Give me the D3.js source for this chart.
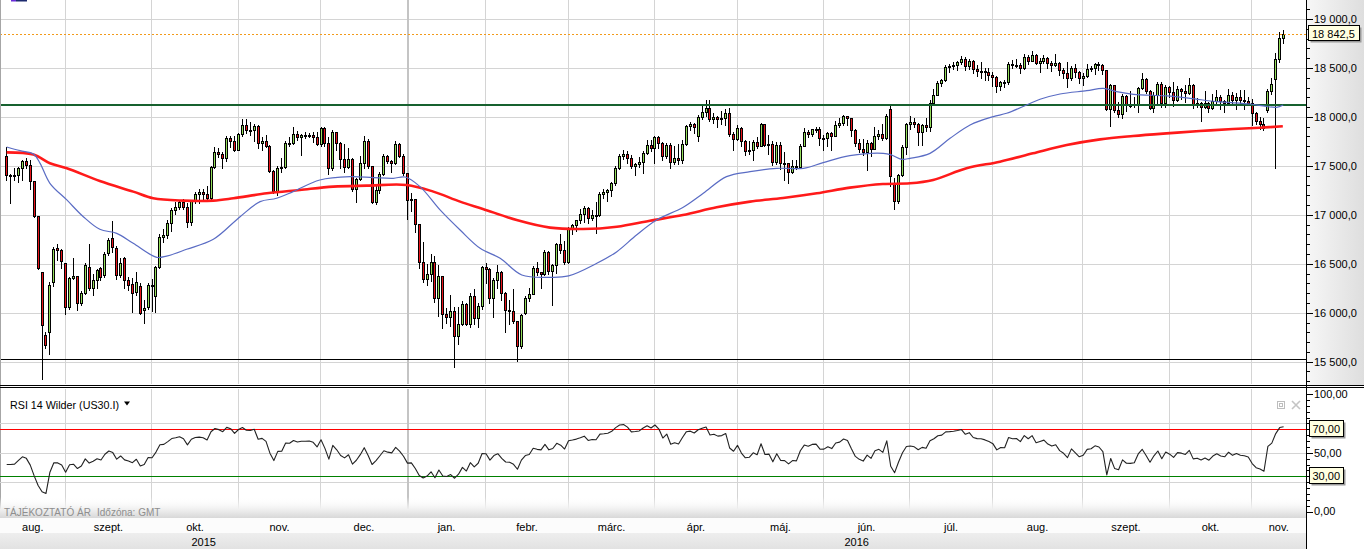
<!DOCTYPE html>
<html lang="hu">
<head>
<meta charset="utf-8">
<title>US30.I</title>
<script src="https://cdn.jsdelivr.net/npm/d3@7/dist/d3.min.js"></script>
<style>
  html, body { margin: 0; padding: 0; background: #ffffff; overflow: hidden; }
  svg { display: block; font-family: "Liberation Sans", Arial, sans-serif; }
</style>
</head>
<body>
<svg id="chart" width="1364" height="549"></svg>
<script>
// ---------------- DATA ----------------
const dates = [
  "2015-08-11","2015-08-12","2015-08-13","2015-08-14","2015-08-17","2015-08-18","2015-08-19","2015-08-20","2015-08-21","2015-08-24","2015-08-25","2015-08-26","2015-08-27","2015-08-28","2015-08-31",
  "2015-09-01","2015-09-02","2015-09-03","2015-09-04","2015-09-07","2015-09-08","2015-09-09","2015-09-10","2015-09-11","2015-09-14","2015-09-15","2015-09-16","2015-09-17","2015-09-18","2015-09-21","2015-09-22","2015-09-23","2015-09-24","2015-09-25","2015-09-28","2015-09-29","2015-09-30",
  "2015-10-01","2015-10-02","2015-10-05","2015-10-06","2015-10-07","2015-10-08","2015-10-09","2015-10-12","2015-10-13","2015-10-14","2015-10-15","2015-10-16","2015-10-19","2015-10-20","2015-10-21","2015-10-22","2015-10-23","2015-10-26","2015-10-27","2015-10-28","2015-10-29","2015-10-30",
  "2015-11-02","2015-11-03","2015-11-04","2015-11-05","2015-11-06","2015-11-09","2015-11-10","2015-11-11","2015-11-12","2015-11-13","2015-11-16","2015-11-17","2015-11-18","2015-11-19","2015-11-20","2015-11-23","2015-11-24","2015-11-25","2015-11-26","2015-11-27","2015-11-30",
  "2015-12-01","2015-12-02","2015-12-03","2015-12-04","2015-12-07","2015-12-08","2015-12-09","2015-12-10","2015-12-11","2015-12-14","2015-12-15","2015-12-16","2015-12-17","2015-12-18","2015-12-21","2015-12-22","2015-12-23","2015-12-24","2015-12-28","2015-12-29","2015-12-30","2015-12-31",
  "2016-01-04","2016-01-05","2016-01-06","2016-01-07","2016-01-08","2016-01-11","2016-01-12","2016-01-13","2016-01-14","2016-01-15","2016-01-18","2016-01-19","2016-01-20","2016-01-21","2016-01-22","2016-01-25","2016-01-26","2016-01-27","2016-01-28","2016-01-29",
  "2016-02-01","2016-02-02","2016-02-03","2016-02-04","2016-02-05","2016-02-08","2016-02-09","2016-02-10","2016-02-11","2016-02-12","2016-02-15","2016-02-16","2016-02-17","2016-02-18","2016-02-19","2016-02-22","2016-02-23","2016-02-24","2016-02-25","2016-02-26","2016-02-29",
  "2016-03-01","2016-03-02","2016-03-03","2016-03-04","2016-03-07","2016-03-08","2016-03-09","2016-03-10","2016-03-11","2016-03-14","2016-03-15","2016-03-16","2016-03-17","2016-03-18","2016-03-21","2016-03-22","2016-03-23","2016-03-24","2016-03-28","2016-03-29","2016-03-30","2016-03-31",
  "2016-04-01","2016-04-04","2016-04-05","2016-04-06","2016-04-07","2016-04-08","2016-04-11","2016-04-12","2016-04-13","2016-04-14","2016-04-15","2016-04-18","2016-04-19","2016-04-20","2016-04-21","2016-04-22","2016-04-25","2016-04-26","2016-04-27","2016-04-28","2016-04-29",
  "2016-05-02","2016-05-03","2016-05-04","2016-05-05","2016-05-06","2016-05-09","2016-05-10","2016-05-11","2016-05-12","2016-05-13","2016-05-16","2016-05-17","2016-05-18","2016-05-19","2016-05-20","2016-05-23","2016-05-24","2016-05-25","2016-05-26","2016-05-27","2016-05-30","2016-05-31",
  "2016-06-01","2016-06-02","2016-06-03","2016-06-06","2016-06-07","2016-06-08","2016-06-09","2016-06-10","2016-06-13","2016-06-14","2016-06-15","2016-06-16","2016-06-17","2016-06-20","2016-06-21","2016-06-22","2016-06-23","2016-06-24","2016-06-27","2016-06-28","2016-06-29","2016-06-30",
  "2016-07-01","2016-07-04","2016-07-05","2016-07-06","2016-07-07","2016-07-08","2016-07-11","2016-07-12","2016-07-13","2016-07-14","2016-07-15","2016-07-18","2016-07-19","2016-07-20","2016-07-21","2016-07-22","2016-07-25","2016-07-26","2016-07-27","2016-07-28","2016-07-29",
  "2016-08-01","2016-08-02","2016-08-03","2016-08-04","2016-08-05","2016-08-08","2016-08-09","2016-08-10","2016-08-11","2016-08-12","2016-08-15","2016-08-16","2016-08-17","2016-08-18","2016-08-19","2016-08-22","2016-08-23","2016-08-24","2016-08-25","2016-08-26","2016-08-29","2016-08-30","2016-08-31",
  "2016-09-01","2016-09-02","2016-09-05","2016-09-06","2016-09-07","2016-09-08","2016-09-09","2016-09-12","2016-09-13","2016-09-14","2016-09-15","2016-09-16","2016-09-19","2016-09-20","2016-09-21","2016-09-22","2016-09-23","2016-09-26","2016-09-27","2016-09-28","2016-09-29","2016-09-30",
  "2016-10-03","2016-10-04","2016-10-05","2016-10-06","2016-10-07","2016-10-10","2016-10-11","2016-10-12","2016-10-13","2016-10-14","2016-10-17","2016-10-18","2016-10-19","2016-10-20","2016-10-21","2016-10-24","2016-10-25","2016-10-26","2016-10-27","2016-10-28","2016-10-31",
  "2016-11-01","2016-11-02","2016-11-03","2016-11-04","2016-11-07","2016-11-08","2016-11-09","2016-11-10","2016-11-11"
];

const open = [
  17604,17402,17403,17409,17477,17546,17512,17349,16990,16420,15773,15800,16318,16660,16643,
  16505,16062,16351,16374,16098,16198,16471,16250,16330,16460,16386,16607,16760,16660,16384,16560,16330,16290,16215,16270,16030,16060,
  16284,16171,16472,16776,16790,16912,17050,17084,17131,17081,16924,17141,17215,17230,17217,17168,17489,17646,17623,17581,17780,17755,
  17663,17828,17918,17867,17863,17910,17730,17758,17702,17448,17245,17483,17489,17737,17732,17824,17792,17812,17813,17820,17798,
  17720,17888,17730,17478,17848,17731,17568,17493,17575,17265,17368,17525,17750,17496,17128,17252,17418,17603,17552,17528,17720,17603,
  17425,17149,17158,16907,16514,16346,16399,16516,16151,16379,15988,15960,16016,15766,15882,16093,15885,16167,15944,16069,
  16466,16449,16153,16336,16416,16204,16027,16014,15914,15660,16000,16150,16196,16453,16413,16400,16620,16431,16485,16698,16639,
  16516,16865,16899,16943,17006,17073,16964,17000,16995,17213,17229,17251,17325,17481,17602,17623,17582,17502,17516,17535,17633,17716,
  17685,17792,17737,17603,17716,17541,17577,17556,17721,17908,17926,17800,18004,18053,18096,17982,18003,17977,17990,18041,17830,
  17773,17891,17750,17651,17660,17740,17705,17928,17711,17720,17535,17710,17529,17526,17435,17501,17492,17706,17851,17828,17873,17880,
  17787,17789,17838,17807,17920,17938,18005,17985,17865,17732,17675,17640,17733,17675,17804,17829,17780,18081,17330,17140,17409,17695,
  17930,17949,17925,17841,17918,17896,18147,18226,18347,18372,18506,18517,18534,18559,18595,18518,18571,18493,18474,18473,18456,
  18432,18404,18314,18355,18352,18544,18529,18533,18496,18613,18576,18636,18552,18574,18597,18552,18529,18547,18481,18449,18395,18503,18454,
  18401,18419,18492,18500,18538,18526,18479,18085,18325,18067,18034,18212,18124,18120,18130,18293,18392,18261,18094,18228,18339,18143,
  18308,18253,18168,18281,18269,18240,18329,18129,18144,18098,18138,18087,18162,18203,18162,18146,18223,18169,18199,18170,18161,
  18142,18037,17959,17931,18071,18260,18384,18589,18808
];

const high = [
  17696,17420,17480,17490,17560,17580,17560,17350,16990,16420,15807,16318,16668,16700,16650,
  16505,16370,16556,16374,16220,16505,16702,16400,16450,16470,16620,16760,16940,16680,16560,16570,16370,16352,16420,16300,16130,16300,
  16340,16480,16800,16860,16950,17070,17130,17150,17160,17120,17150,17230,17260,17260,17290,17500,17690,17680,17640,17800,17800,17800,
  17840,17980,17980,17950,17930,17920,17790,17820,17710,17460,17500,17580,17750,17790,17900,17860,17830,17850,17840,17850,17850,
  17900,17900,17790,17870,17850,17740,17720,17680,17580,17380,17600,17800,17770,17500,17300,17440,17620,17610,17560,17750,17730,17620,
  17430,17220,17160,16910,16720,16500,16600,16580,16490,16380,16050,16180,16060,16060,16120,16100,16200,16240,16100,16480,
  16510,16460,16350,16490,16430,16210,16130,16240,15920,15990,16170,16250,16480,16520,16420,16640,16630,16500,16710,16800,16730,
  16880,16910,16950,17060,17090,17080,17050,17130,17230,17260,17260,17340,17500,17620,17660,17650,17610,17530,17590,17650,17760,17760,
  17800,17810,17740,17730,17730,17700,17720,17760,17920,17950,17940,18020,18110,18173,18170,18040,18010,18060,18080,18090,17850,
  17920,17900,17760,17750,17760,17790,17940,17930,17820,17750,17740,17740,17640,17530,17560,17560,17720,17890,17870,17880,17900,17900,
  17820,17850,17850,17960,17990,18020,18010,17990,17880,17770,17770,17760,17740,17900,17870,17930,18030,18110,17380,17420,17710,17940,
  18010,17990,17940,17930,17990,18170,18280,18370,18390,18530,18540,18560,18570,18620,18610,18590,18580,18530,18560,18500,18500,
  18460,18420,18370,18380,18560,18580,18590,18550,18640,18630,18670,18640,18600,18630,18610,18570,18640,18560,18500,18560,18520,18540,18470,
  18450,18540,18520,18550,18560,18540,18480,18340,18330,18150,18230,18220,18260,18200,18310,18450,18400,18270,18250,18360,18360,18330,
  18320,18360,18320,18300,18330,18400,18340,18190,18150,18260,18150,18230,18270,18220,18170,18290,18250,18240,18270,18270,18200,
  18180,18050,18000,17990,18280,18400,18649,18870,18890
];

const low = [
  17356,17116,17360,17340,17360,17480,17260,16980,16450,15324,15640,15579,16270,16540,16460,
  15990,16040,16340,16030,16080,16190,16230,16180,16250,16330,16360,16590,16620,16340,16360,16250,16230,16011,16180,15990,15900,16040,
  16013,16011,16460,16720,16760,16830,17010,17060,17060,16880,16900,17120,17120,17150,17150,17160,17480,17590,17480,17550,17690,17650,
  17660,17800,17840,17820,17750,17680,17660,17690,17440,17220,17200,17440,17480,17700,17720,17760,17610,17780,17790,17740,17710,
  17700,17700,17420,17460,17660,17480,17440,17480,17240,17130,17360,17480,17480,17120,17110,17220,17410,17530,17440,17520,17590,17410,
  16960,17040,16820,16460,16310,16280,16320,16110,15970,15840,15900,15860,15450,15680,15870,15870,15850,15880,15850,16040,
  16300,16100,15960,16250,16130,15800,15880,15900,15508,15640,15990,16120,16190,16390,16250,16390,16400,16080,16410,16610,16500,
  16510,16800,16830,16920,16930,16920,16950,16810,16990,17170,17140,17190,17300,17470,17570,17530,17480,17410,17490,17430,17620,17650,
  17530,17680,17560,17580,17480,17520,17520,17530,17710,17870,17840,17750,17980,18010,17960,17940,17900,17930,17920,17800,17660,
  17760,17700,17610,17620,17560,17680,17700,17700,17620,17510,17520,17470,17360,17329,17430,17470,17480,17700,17790,17800,17850,17710,
  17660,17700,17660,17800,17900,17920,17920,17810,17700,17640,17610,17458,17600,17670,17770,17760,17770,17290,17060,17120,17400,17620,
  17880,17900,17710,17710,17860,17860,18140,18220,18320,18370,18460,18490,18480,18540,18480,18490,18450,18420,18400,18380,18380,
  18320,18250,18270,18310,18340,18500,18510,18450,18490,18540,18570,18540,18460,18550,18500,18470,18520,18430,18400,18310,18380,18410,18350,
  18330,18410,18470,18440,18480,18440,18070,17906,18050,18000,17990,18060,18100,18100,18050,18280,18240,18080,18050,18130,18100,18100,
  18200,18110,18160,18180,18150,18230,18090,18100,17960,18090,18050,18080,18140,18080,18050,18140,18130,18080,18140,18080,18120,
  17920,17930,17880,17870,18050,18230,17475,18560,18750
];

const close = [
  17402,17403,17409,17477,17546,17512,17349,16990,16460,15871,15666,16285,16655,16643,16528,
  16058,16351,16374,16102,16198,16492,16253,16330,16433,16370,16599,16739,16674,16384,16510,16330,16280,16201,16314,16001,16049,16284,
  16272,16472,16776,16790,16912,17050,17084,17131,17081,16924,17141,17215,17230,17217,17168,17489,17646,17623,17581,17780,17755,17663,
  17828,17918,17867,17863,17910,17730,17758,17702,17448,17245,17483,17489,17737,17732,17824,17792,17812,17813,17820,17798,17720,
  17888,17730,17478,17848,17731,17568,17493,17575,17265,17368,17525,17750,17496,17128,17252,17418,17603,17552,17528,17720,17603,17425,
  17149,17158,16907,16514,16346,16399,16516,16151,16379,15988,15960,16016,15766,15882,16093,15885,16167,15944,16069,16466,
  16449,16153,16336,16416,16204,16027,16014,15914,15660,15973,16150,16196,16453,16413,16392,16620,16431,16485,16698,16639,16516,
  16865,16899,16943,17006,17073,16964,17000,16995,17213,17229,17251,17325,17481,17602,17623,17582,17502,17516,17535,17633,17716,17685,
  17792,17737,17603,17716,17541,17577,17556,17721,17908,17926,17897,18004,18053,18096,17982,18003,17977,17990,18041,17830,17773,
  17891,17750,17651,17660,17740,17705,17928,17711,17720,17535,17710,17529,17526,17435,17501,17492,17706,17851,17828,17873,17880,17787,
  17789,17838,17807,17920,17938,18005,17985,17865,17732,17675,17640,17733,17675,17804,17829,17780,18011,17400,17140,17409,17695,17930,
  17949,17925,17841,17918,17896,18147,18226,18347,18372,18506,18517,18534,18559,18595,18518,18571,18493,18474,18473,18456,18432,
  18404,18314,18355,18352,18544,18529,18533,18496,18613,18576,18636,18552,18574,18597,18552,18529,18547,18481,18449,18395,18503,18454,18401,
  18419,18492,18500,18538,18526,18479,18085,18325,18067,18034,18212,18124,18120,18130,18293,18392,18261,18094,18228,18339,18143,18308,
  18253,18168,18281,18269,18240,18329,18129,18144,18098,18138,18087,18162,18203,18162,18146,18223,18169,18199,18170,18161,18142,
  18037,17959,17931,17888,18260,18332,18589,18808,18842.5
];

// closes before the visible window (Jun-Aug 2015), used only to warm up the RSI
const rsiWarmupCloses = [
  18040,18011,18076,17905,17849,17766,17765,18001,18039,17899,17792,17905,17935,18115,17985,18120,18144,17967,17891,17947,17597,17620,
  17758,17731,17700,17684,17777,17515,17548,17760,17977,18054,18051,18121,18087,18100,17920,17851,17732,17569,17441,17631,17751,17746,17690,
  17599,17551,17541,17420,17373,17615
];

// moving averages: [candle index, value]
const maSlow = [
  [0,17638],[6.8,17615],[11,17526],[15.3,17475],[23.7,17346],[32.2,17237],[37.3,17169],[45,17145],[52.6,17145],[57.7,17169],
  [66.2,17220],[74.6,17254],[83.1,17288],[91.6,17298],[101.8,17305],[108.6,17237],[115.4,17135],[121.2,17060],[129.8,16947],
  [138.3,16869],[146.7,16855],[155.3,16879],[163.7,16940],[172.1,16998],[180.7,17077],[189.2,17135],[197.6,17172],[206.2,17220],
  [214.6,17278],[223,17315],[229.9,17322],[235.8,17356],[244.3,17475],[252.8,17543],[261.2,17628],[269.8,17713],[278.3,17771],
  [286.7,17805],[295.2,17832],[303.7,17856],[312.1,17877],[319,17890],[324.8,17904]
];
const maFast = [
  [0,17693],[3.4,17655],[6.8,17621],[8.5,17526],[11,17322],[15.3,17152],[19.5,16981],[23.7,16852],[28,16811],[32.2,16709],
  [38.2,16566],[40.7,16579],[45.8,16648],[52.6,16750],[59.4,16981],[64.5,17135],[68.7,17169],[72.9,17237],[79.7,17356],
  [87.4,17390],[93.3,17380],[98.4,17373],[101.4,17386],[105.2,17288],[110.3,17050],[115.4,16845],[120.5,16658],[125.6,16556],
  [131.1,16386],[138.3,16362],[143,16376],[150.2,16505],[155.3,16624],[160.3,16794],[165.4,16947],[172.2,17077],[177.3,17220],
  [183.2,17390],[189.2,17441],[196,17475],[202.8,17475],[207.8,17533],[214.6,17604],[223.1,17628],[225.2,17611],[227.8,17567],
  [229.9,17577],[235,17628],[240.1,17781],[245.2,17918],[251.1,18003],[254.5,18037],[259.6,18122],[263,18180],[268.1,18234],
  [274.9,18268],[279.1,18292],[282.5,18258],[286.8,18231],[295.2,18214],[301.2,18190],[308,18156],[316.5,18132],[319.8,18112],
  [323.2,18098],[324.9,18122]
];

const levelGreen = 18122;
const levelBlack = 15525;
const lastPrice = 18842.5;

const priceTicks = [15500,16000,16500,17000,17500,18000,18500,19000];
const rsiTicks = [0,50,100];
const rsiGrid = [25,50,75];
const rsiBands = [70,30];
const monthNames = ["jan.","febr.","márc.","ápr.","máj.","jún.","júl.","aug.","szept.","okt.","nov.","dec."];
const rsiTitle = "RSI 14 Wilder (US30.I)";
const footNote1 = "TÁJÉKOZTATÓ ÁR";
const footNote2 = "Időzóna: GMT";

// ---------------- LAYOUT ----------------
const W = 1364, H = 549;
const plotR = 1306;
const mainB = 384;
const rsiT = 389, rsiB = 518;
const monthRowT = 518, monthRowB = 533, yearRowB = 549;

const svg = d3.select("#chart");
const defs = svg.append("defs");
function vGrad(id, stops, horiz) {
  const g = defs.append("linearGradient").attr("id", id)
    .attr("x1", 0).attr("y1", 0).attr("x2", horiz ? 1 : 0).attr("y2", horiz ? 0 : 1);
  stops.forEach(s => g.append("stop").attr("offset", s[0]).attr("stop-color", s[1]).attr("stop-opacity", s[2] == null ? 1 : s[2]));
}
vGrad("axisGrad", [["0%", "#f7f7f7"], ["100%", "#dedede"]], true);
vGrad("bandGrad", [["0%", "#ffffff", 0], ["60%", "#efefef", 1], ["100%", "#d8d8d8", 1]], false);
vGrad("yearGrad", [["0%", "#eeeeee"], ["100%", "#e2e2e2"]], false);

const x = d3.scaleLinear().domain([-1.705, 330.7]).range([0, plotR]);
const y = d3.scaleLinear().domain([15500, 19000]).range([361.7, 19]);
const yR = d3.scaleLinear().domain([0, 100]).range([511.5, 394]);

const huLocale = d3.formatLocale({ decimal: ",", thousands: " ", grouping: [3], currency: ["", ""] });
const fmtPrice = huLocale.format(",.1f");
const fmtRsi = huLocale.format(".2f");

// month boundaries from dates
const monthStarts = [];
dates.forEach((d, i) => { if (i === 0 || d.slice(0, 7) !== dates[i - 1].slice(0, 7)) monthStarts.push(i); });
const bLine = i => Math.floor(x(i) - 0.4) + 0.5;
const monthLines = monthStarts.slice(1).map(bLine);
const yearStart = monthStarts.find(i => dates[i].slice(5, 7) === "01");

// backgrounds
svg.append("rect").attr("x", 0).attr("y", 0).attr("width", W).attr("height", H).attr("fill", "#ffffff");
svg.append("rect").attr("x", plotR).attr("y", 0).attr("width", W - plotR).attr("height", mainB + 1).attr("fill", "url(#axisGrad)");

const crisp = svg.append("g").attr("shape-rendering", "crispEdges");

// ---- main panel grid ----
const gMain = crisp.append("g");
gMain.selectAll("line.hg").data(priceTicks).join("line")
  .attr("x1", 0).attr("x2", plotR).attr("y1", d => Math.round(y(d)) + 0.5).attr("y2", d => Math.round(y(d)) + 0.5)
  .attr("stroke", "#d4d4d4");
gMain.selectAll("line.vg").data(monthLines).join("line")
  .attr("x1", d => d).attr("x2", d => d).attr("y1", 0).attr("y2", mainB)
  .attr("stroke", "#d4d4d4");
gMain.append("line").attr("x1", bLine(yearStart)).attr("x2", bLine(yearStart)).attr("y1", 0).attr("y2", mainB)
  .attr("stroke", "#c4c4c4").attr("stroke-width", 2);

// ---- moving averages ----
const maLine = d3.line().x(d => x(d[0])).y(d => y(d[1])).curve(d3.curveCatmullRom.alpha(0.5));
svg.append("path").attr("d", maLine(maSlow)).attr("fill", "none").attr("stroke", "#ff1a1a").attr("stroke-width", 2.6).attr("stroke-linejoin", "round");
svg.append("path").attr("d", maLine(maFast)).attr("fill", "none").attr("stroke", "#5a6cc4").attr("stroke-width", 1.2);

// ---- candles ----
const idx = d3.range(close.length);
const gC = crisp.append("g");
const cx = i => Math.floor(x(i));
gC.selectAll("line.wick").data(idx).join("line")
  .attr("x1", i => cx(i) + 0.5).attr("x2", i => cx(i) + 0.5)
  .attr("y1", i => Math.round(y(Math.max(high[i], open[i], close[i]))))
  .attr("y2", i => Math.round(y(Math.min(low[i], open[i], close[i]))) + 1)
  .attr("stroke", "#000");
gC.selectAll("rect.body").data(idx).join("rect")
  .attr("x", i => cx(i) - 0.5).attr("width", 2)
  .attr("y", i => Math.round(y(Math.max(open[i], close[i]))) + 0.5)
  .attr("height", i => Math.max(1, Math.round(y(Math.min(open[i], close[i]))) - Math.round(y(Math.max(open[i], close[i])))))
  .attr("fill", i => close[i] >= open[i] ? "#93dd5a" : "#e8141b")
  .attr("stroke", "#000").attr("stroke-width", 1);

// ---- level lines ----
crisp.append("line").attr("x1", 0).attr("x2", plotR).attr("y1", Math.round(y(levelGreen))).attr("y2", Math.round(y(levelGreen)))
  .attr("stroke", "#17612f").attr("stroke-width", 2);
crisp.append("line").attr("x1", 0).attr("x2", plotR).attr("y1", Math.round(y(levelBlack)) + 0.5).attr("y2", Math.round(y(levelBlack)) + 0.5)
  .attr("stroke", "#000").attr("stroke-width", 1);
crisp.append("line").attr("x1", 0).attr("x2", plotR).attr("y1", Math.round(y(lastPrice)) + 0.5).attr("y2", Math.round(y(lastPrice)) + 0.5)
  .attr("stroke", "#f29a1a").attr("stroke-dasharray", "2,2");

// left border & top-left icon
crisp.append("line").attr("x1", 0.5).attr("x2", 0.5).attr("y1", 0).attr("y2", rsiB).attr("stroke", "#a6a6a6");
svg.append("rect").attr("x", 11).attr("y", 0).attr("width", 5).attr("height", 1.5).attr("fill", "#6a2cd8");
svg.append("rect").attr("x", 16).attr("y", 0).attr("width", 11).attr("height", 1.5).attr("fill", "#1c2a6e");

// ---- main right axis ----
const priceMinor = d3.range(15300, 19200, 100);
crisp.selectAll("line.pt").data(priceMinor).join("line")
  .attr("x1", plotR).attr("x2", d => plotR + (d % 500 === 0 ? 7 : 4))
  .attr("y1", d => Math.round(y(d)) + 0.5).attr("y2", d => Math.round(y(d)) + 0.5)
  .attr("stroke", "#000");
svg.selectAll("text.pl").data(priceTicks).join("text")
  .attr("x", 1314).attr("y", d => y(d)).attr("dy", "0.35em")
  .attr("font-size", 11).attr("fill", "#000").text(d => fmtPrice(d));

// last price box
const ly = y(lastPrice);
svg.append("rect").attr("x", 1310.5).attr("y", Math.round(ly) - 6.5).attr("width", 51).attr("height", 15).attr("fill", "#9a9a9a");
svg.append("rect").attr("x", 1308.5).attr("y", Math.round(ly) - 8.5).attr("width", 51).attr("height", 15)
  .attr("fill", "#ffffe1").attr("stroke", "#000").attr("shape-rendering", "crispEdges");
svg.append("text").attr("x", 1312).attr("y", ly).attr("dy", "0.35em").attr("font-size", 11).attr("fill", "#000").text(fmtPrice(lastPrice));

// ---- panel divider ----
crisp.append("line").attr("x1", 0).attr("x2", W).attr("y1", 385.5).attr("y2", 385.5).attr("stroke", "#000");
crisp.append("line").attr("x1", 0).attr("x2", W).attr("y1", 387.5).attr("y2", 387.5).attr("stroke", "#000");

// ---- RSI panel ----
const closesAll = rsiWarmupCloses.concat(close);
function wilderRSI(series, period) {
  const out = new Array(series.length).fill(null);
  let g = 0, l = 0;
  for (let i = 1; i <= period; i++) { const d = series[i] - series[i - 1]; if (d > 0) g += d; else l -= d; }
  g /= period; l /= period;
  out[period] = l === 0 ? 100 : 100 - 100 / (1 + g / l);
  for (let i = period + 1; i < series.length; i++) {
    const d = series[i] - series[i - 1];
    g = (g * (period - 1) + Math.max(d, 0)) / period;
    l = (l * (period - 1) + Math.max(-d, 0)) / period;
    out[i] = l === 0 ? 100 : 100 - 100 / (1 + g / l);
  }
  return out;
}
const rsi = wilderRSI(closesAll, 14).slice(rsiWarmupCloses.length);

svg.append("rect").attr("x", 0).attr("y", 497).attr("width", plotR).attr("height", rsiB - 497).attr("fill", "url(#bandGrad)");
const gR = crisp.append("g");
gR.selectAll("line.rg").data(rsiGrid).join("line")
  .attr("x1", 0).attr("x2", plotR).attr("y1", d => Math.round(yR(d)) + 0.5).attr("y2", d => Math.round(yR(d)) + 0.5)
  .attr("stroke", "#d4d4d4");
gR.selectAll("line.rv").data(monthLines).join("line")
  .attr("x1", d => d).attr("x2", d => d).attr("y1", rsiT).attr("y2", rsiB)
  .attr("stroke", "#d4d4d4");
gR.append("line").attr("x1", bLine(yearStart)).attr("x2", bLine(yearStart)).attr("y1", rsiT).attr("y2", rsiB)
  .attr("stroke", "#c4c4c4").attr("stroke-width", 2);
gR.selectAll("line.band").data(rsiBands).join("line")
  .attr("x1", 0).attr("x2", plotR).attr("y1", d => Math.round(yR(d)) + 0.5).attr("y2", d => Math.round(yR(d)) + 0.5)
  .attr("stroke", d => d > 50 ? "#ff0000" : "#008000");

const rsiLine = d3.line().defined(d => d != null).x((d, i) => x(i)).y(d => yR(d));
svg.append("path").attr("d", rsiLine(rsi)).attr("fill", "none").attr("stroke", "#222").attr("stroke-width", 1.1).attr("stroke-linejoin", "round");

// RSI title
svg.append("text").attr("x", 10).attr("y", 409).attr("font-size", 11.5).attr("fill", "#000")
  .attr("textLength", 109).attr("lengthAdjust", "spacingAndGlyphs").text(rsiTitle);
svg.append("path").attr("d", "M124,401.5 L130,401.5 L127,405.5 Z").attr("fill", "#000");
// panel icons
crisp.append("rect").attr("x", 1277.5).attr("y", 401.5).attr("width", 7).attr("height", 7).attr("fill", "none").attr("stroke", "#bdbdbd");
crisp.append("rect").attr("x", 1279.5).attr("y", 403.5).attr("width", 3).attr("height", 3).attr("fill", "none").attr("stroke", "#bdbdbd");
svg.append("path").attr("d", "M1292,401 L1300,409 M1300,401 L1292,409").attr("stroke", "#c4c4c4").attr("stroke-width", 1.6);

// footnote
svg.append("text").attr("x", 4).attr("y", 516).attr("font-size", 10).attr("fill", "#8e8e8e").text(footNote1);
svg.append("text").attr("x", 97).attr("y", 516).attr("font-size", 10).attr("fill", "#8e8e8e").text(footNote2);

// RSI right axis
const rsiMinor = d3.range(0, 101, 5);
crisp.selectAll("line.rt").data(rsiMinor).join("line")
  .attr("x1", plotR).attr("x2", d => plotR + (d % 25 === 0 ? 7 : 4))
  .attr("y1", d => Math.round(yR(d)) + 0.5).attr("y2", d => Math.round(yR(d)) + 0.5)
  .attr("stroke", "#000");
svg.selectAll("text.rl").data(rsiTicks).join("text")
  .attr("x", 1314).attr("y", d => yR(d)).attr("dy", "0.35em")
  .attr("font-size", 11).attr("fill", "#000").text(d => fmtRsi(d));
rsiBands.forEach(v => {
  const yy = Math.round(yR(v));
  svg.append("rect").attr("x", 1311.5).attr("y", yy - 6.5).attr("width", 34).attr("height", 16).attr("fill", "#9a9a9a");
  svg.append("rect").attr("x", 1309.5).attr("y", yy - 8.5).attr("width", 34).attr("height", 16)
    .attr("fill", "#ffffe1").attr("stroke", "#000").attr("shape-rendering", "crispEdges");
  svg.append("text").attr("x", 1312.5).attr("y", yy).attr("dy", "0.35em").attr("font-size", 11).attr("fill", "#000").text(fmtRsi(v));
});

// ---- bottom time axis ----
svg.append("rect").attr("x", 0).attr("y", monthRowT).attr("width", plotR).attr("height", monthRowB - monthRowT).attr("fill", "#fcfcfc");
svg.append("rect").attr("x", 0).attr("y", monthRowB).attr("width", plotR).attr("height", yearRowB - monthRowB).attr("fill", "url(#yearGrad)");
crisp.append("line").attr("x1", 0).attr("x2", plotR).attr("y1", monthRowT + 0.5).attr("y2", monthRowT + 0.5).attr("stroke", "#000");
crisp.append("line").attr("x1", 0).attr("x2", plotR).attr("y1", monthRowB + 0.5).attr("y2", monthRowB + 0.5).attr("stroke", "#000");
crisp.selectAll("line.ms").data(monthLines).join("line")
  .attr("x1", d => d).attr("x2", d => d).attr("y1", monthRowT).attr("y2", monthRowB)
  .attr("stroke", "#000");
crisp.append("line").attr("x1", bLine(yearStart)).attr("x2", bLine(yearStart)).attr("y1", monthRowT).attr("y2", yearRowB).attr("stroke", "#000");

const monthEdges = [0].concat(monthLines, [plotR]);
svg.selectAll("text.mn").data(monthStarts).join("text")
  .attr("x", (d, k) => (monthEdges[k] + monthEdges[k + 1]) / 2)
  .attr("y", 530.5).attr("text-anchor", "middle").attr("font-size", 11).attr("fill", "#000")
  .text(d => monthNames[+dates[d].slice(5, 7) - 1]);
const yearEdges = [0, bLine(yearStart), plotR];
svg.selectAll("text.yr").data([0, yearStart]).join("text")
  .attr("x", (d, k) => (yearEdges[k] + yearEdges[k + 1]) / 2)
  .attr("y", 545.5).attr("text-anchor", "middle").attr("font-size", 11).attr("fill", "#000")
  .text(d => dates[d].slice(0, 4));

// right axis vertical line
crisp.append("line").attr("x1", plotR + 0.5).attr("x2", plotR + 0.5).attr("y1", 0).attr("y2", H).attr("stroke", "#000");
</script>
</body>
</html>
